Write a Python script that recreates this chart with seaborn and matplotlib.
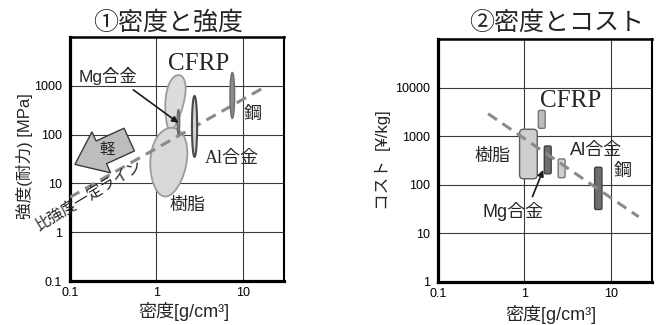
import numpy as np
import matplotlib
matplotlib.use("Agg")
import matplotlib.pyplot as plt
from matplotlib.patches import FancyArrow, FancyBboxPatch
from matplotlib.transforms import IdentityTransform
from matplotlib.ticker import NullLocator
import seaborn as sns

sns.set_theme(style="white")
plt.rcParams["font.family"] = ["Liberation Sans", "Noto Sans CJK JP"]
plt.rcParams["axes.unicode_minus"] = False

# ---- data -------------------------------------------------------------
materials = ["樹脂", "CFRP", "Mg合金", "Al合金", "鋼"]

# density [g/cm3] and strength [MPa] ranges
str_density_lo = [0.85, 1.27, 1.74, 2.58, 7.1]
str_density_hi = [2.24, 2.07, 1.86, 2.96, 8.05]
strength_lo = [5.4, 120, 100, 35, 215]
strength_hi = [138, 1660, 325, 620, 1880]

# density [g/cm3] and cost [yen/kg] ranges
cost_density_lo = [0.88, 1.45, 1.70, 2.46, 6.5]
cost_density_hi = [1.41, 1.74, 2.04, 2.96, 7.9]
cost_lo = [133, 1450, 168, 140, 31]
cost_hi = [1390, 3400, 630, 340, 230]

# constant specific-strength line and cost trend line
ratio_line_density = [0.1, 19]
ratio_line_strength = [5.2, 1000]
cost_line_density = [0.38, 21]
cost_line_cost = [2900, 22]

x_ticks = [0.1, 1, 10]
x_ticklabels = ["0.1", "1", "10"]
str_ticks = [0.1, 1, 10, 100, 1000]
str_ticklabels = ["0.1", "1", "10", "100", "1000"]
cost_ticks = [1, 10, 100, 1000, 10000]
cost_ticklabels = ["1", "10", "100", "1000", "10000"]

# ---- styles -----------------------------------------------------------
# shear tilts a region, egg widens its upper half
blob_style = {
    "樹脂":  dict(fc="#d9d9d9", ec="#9c9c9c", lw=1.3, shear=0.05, egg=0.12, z=3),
    "CFRP":  dict(fc="#dcdcdc", ec="#9c9c9c", lw=1.3, shear=0.08, egg=0.3, z=2),
    "Mg合金": dict(fc="#8a8a8a", ec="#666666", lw=1.0, shear=0.0, egg=0.0, z=6),
    "Al合金": dict(fc="#d4d4d4", ec="#4a4a4a", lw=1.5, shear=0.0, egg=0.0, z=6),
    "鋼":    dict(fc="#8a8a8a", ec="#6e6e6e", lw=1.0, shear=0.0, egg=0.0, z=6),
}
bar_style = {
    "樹脂":  dict(fc="#cfcfcf", ec="#5e5e5e", r=4),
    "CFRP":  dict(fc="#bdbdbd", ec="#777777", r=1.5),
    "Mg合金": dict(fc="#6e6e6e", ec="#404040", r=1.5),
    "Al合金": dict(fc="#cfcfcf", ec="#777777", r=1.5),
    "鋼":    dict(fc="#6e6e6e", ec="#404040", r=1.5),
}
dash_color = "#8a8a8a"
JP = ["Liberation Sans", "Noto Sans CJK JP"]
SERIF_JP = ["Liberation Serif", "Noto Sans CJK JP"]

fig = plt.figure(figsize=(6.58, 3.25), dpi=100)
ax1 = fig.add_axes([70 / 658, 1 - 281 / 325, 214 / 658, 244 / 325])
ax2 = fig.add_axes([438 / 658, 1 - 282 / 325, 214 / 658, 243 / 325])


def style_axes(ax, ylim, yticks, yticklabels):
    ax.set_xscale("log")
    ax.set_yscale("log")
    ax.set_xlim(0.1, 30)
    ax.set_ylim(*ylim)
    ax.set_xticks(x_ticks)
    ax.set_xticklabels(x_ticklabels)
    ax.set_yticks(yticks)
    ax.set_yticklabels(yticklabels)
    ax.xaxis.set_minor_locator(NullLocator())
    ax.yaxis.set_minor_locator(NullLocator())
    ax.tick_params(axis="both", length=0, labelsize=9, colors="black")
    ax.tick_params(axis="x", pad=4)
    ax.tick_params(axis="y", pad=6)
    ax.grid(True, which="major", color="#3a3a3a", lw=0.8)
    ax.set_axisbelow(True)
    for side, lw in (("left", 2.3), ("bottom", 2.3), ("top", 1.8), ("right", 1.5)):
        ax.spines[side].set_visible(True)
        ax.spines[side].set_color("black")
        ax.spines[side].set_linewidth(lw)


style_axes(ax1, (0.1, 10000), str_ticks, str_ticklabels)
style_axes(ax2, (1, 100000), cost_ticks, cost_ticklabels)

# ---- strength vs density ---------------------------------------------
t = np.linspace(0, 2 * np.pi, 240)
for name, xl, xh, yl, yh in zip(materials, str_density_lo, str_density_hi,
                                strength_lo, strength_hi):
    s = blob_style[name]
    cx, hx = (np.log10(xl) + np.log10(xh)) / 2, (np.log10(xh) - np.log10(xl)) / 2
    cy, hy = (np.log10(yl) + np.log10(yh)) / 2, (np.log10(yh) - np.log10(yl)) / 2
    ly = cy + hy * np.sin(t)
    lx = cx + hx * (1 + s["egg"] * np.sin(t)) * np.cos(t) + s["shear"] * (ly - cy)
    ax1.fill(10 ** lx, 10 ** ly, fc=s["fc"], ec=s["ec"], lw=s["lw"], zorder=s["z"])

sns.lineplot(x=ratio_line_density, y=ratio_line_strength, ax=ax1, color=dash_color,
             lw=2.2, dashes=False, zorder=5)
ax1.lines[-1].set_dashes((3.5, 2.2))

ax1.text(0.166, 5.5, "比強度一定ライン", rotation=31, fontsize=11, family=JP,
         ha="center", va="center", rotation_mode="anchor", zorder=7)

# "lighter" block arrow
tail = ax1.transData.transform((0.485, 79))
tip = ax1.transData.transform((0.114, 24.5))
ax1.add_patch(FancyArrow(tail[0], tail[1], tip[0] - tail[0], tip[1] - tail[1],
                         width=25, head_width=45, head_length=29,
                         length_includes_head=True, transform=IdentityTransform(),
                         fc="#bdbdbd", ec="#3a3a3a", lw=1.0, zorder=6))
ax1.text(0.27, 48.6, "軽", fontsize=11, family=JP, ha="center", va="center", zorder=7)

ax1.text(3.08, 2800, "CFRP", fontsize=18, family="Liberation Serif",
         ha="center", va="center", zorder=7)
ax1.text(0.277, 1600, "Mg合金", fontsize=12.5, family=JP, ha="center", va="center", zorder=7)
ax1.annotate("", xy=(1.8, 174), xytext=(0.54, 828),
             arrowprops=dict(arrowstyle="-|>", color="#1a1a1a", lw=1.2,
                             mutation_scale=9, shrinkA=0, shrinkB=0), zorder=8)
ax1.text(13.1, 254, "鋼", fontsize=13, family=JP, ha="center", va="center", zorder=7)
ax1.text(7.45, 33, "Al合金", fontsize=13, family=SERIF_JP, ha="center", va="center", zorder=7)
ax1.text(2.29, 3.6, "樹脂", fontsize=13, family=JP, ha="center", va="center", zorder=7)

# ---- cost vs density -------------------------------------------------
for name, xl, xh, yl, yh in zip(materials, cost_density_lo, cost_density_hi,
                                cost_lo, cost_hi):
    s = bar_style[name]
    (x0, y0) = ax2.transData.transform((xl, yl))
    (x1, y1) = ax2.transData.transform((xh, yh))
    ax2.add_patch(FancyBboxPatch((x0, y0), x1 - x0, y1 - y0,
                                 boxstyle=f"round,pad=0,rounding_size={s['r']}",
                                 transform=IdentityTransform(),
                                 fc=s["fc"], ec=s["ec"], lw=1.0, zorder=3))

sns.lineplot(x=cost_line_density, y=cost_line_cost, ax=ax2, color=dash_color,
             lw=2.2, dashes=False, zorder=5)
ax2.lines[-1].set_dashes((3.5, 2.2))

ax2.text(3.4, 5300, "CFRP", fontsize=18, family="Liberation Serif",
         ha="center", va="center", zorder=7)
ax2.text(0.427, 390, "樹脂", fontsize=13, family=JP, ha="center", va="center", zorder=7)
ax2.text(6.8, 520, "Al合金", fontsize=13, family=JP, ha="center", va="center", zorder=7)
ax2.text(13.6, 192, "鋼", fontsize=13, family=JP, ha="center", va="center", zorder=7)
ax2.text(0.746, 27.6, "Mg合金", fontsize=13, family=JP, ha="center", va="center", zorder=7)
ax2.annotate("", xy=(1.65, 202), xytext=(1.24, 57),
             arrowprops=dict(arrowstyle="-|>", color="#1a1a1a", lw=1.2,
                             mutation_scale=9, shrinkA=0, shrinkB=0), zorder=8)

# ---- titles and axis labels ------------------------------------------
fig.text(168 / 658, 1 - 23 / 325, "①密度と強度", fontsize=18,
         family=["Noto Sans CJK JP"], ha="center", va="center")
fig.text(557 / 658, 1 - 23 / 325, "②密度とコスト", fontsize=18,
         family=["Noto Sans CJK JP"], ha="center", va="center")

ax1.set_xlabel("密度[g/cm³]", fontsize=13, family=JP)
ax1.xaxis.set_label_coords(0.533, -0.085)
ax2.set_xlabel("密度[g/cm³]", fontsize=13, family=JP)
ax2.xaxis.set_label_coords(0.528, -0.095)
ax1.set_ylabel("強度(耐力) [MPa]", fontsize=12, family=JP)
ax1.yaxis.set_label_coords(-0.175, 0.51)
ax2.set_ylabel("コスト  [¥/kg]", fontsize=12, family=JP)
ax2.yaxis.set_label_coords(-0.22, 0.50)

fig.savefig("out.png", dpi=100, facecolor="white")
